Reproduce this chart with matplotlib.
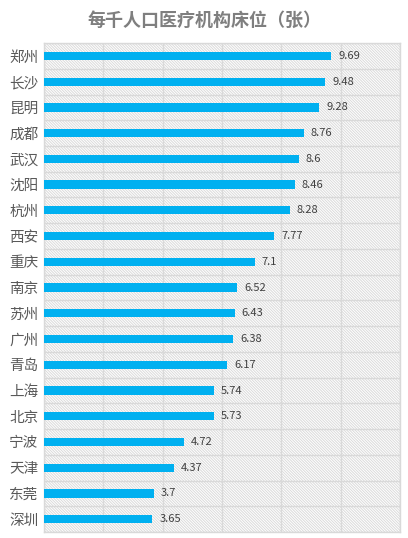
import matplotlib
matplotlib.use("Agg")
import matplotlib.pyplot as plt
from matplotlib.patches import Rectangle

plt.rcParams['font.family'] = ['Noto Sans CJK SC', 'DejaVu Sans']
plt.rcParams['hatch.linewidth'] = 0.7

cities = ["郑州", "长沙", "昆明", "成都", "武汉", "沈阳", "杭州", "西安", "重庆", "南京",
          "苏州", "广州", "青岛", "上海", "北京", "宁波", "天津", "东莞", "深圳"]
beds = [9.69, 9.48, 9.28, 8.76, 8.6, 8.46, 8.28, 7.77, 7.1, 6.52,
        6.43, 6.38, 6.17, 5.74, 5.73, 4.72, 4.37, 3.7, 3.65]
value_labels = ["9.69", "9.48", "9.28", "8.76", "8.6", "8.46", "8.28", "7.77", "7.1", "6.52",
                "6.43", "6.38", "6.17", "5.74", "5.73", "4.72", "4.37", "3.7", "3.65"]

fig = plt.figure(figsize=(4.08, 5.38), dpi=100)
ax = fig.add_axes([0.108, 0.011, 0.872, 0.909])

# hatched background
bg = Rectangle((0, 0), 1, 1, transform=ax.transAxes, facecolor='white',
               edgecolor='#dadada', hatch='\\' * 12, lw=0, zorder=0)
ax.add_patch(bg)

n = len(cities)
ypos = list(range(n))
ax.barh(ypos, beds, height=0.32, color='#00b0f0', zorder=3)

for y, v, lab in zip(ypos, beds, value_labels):
    ax.annotate(lab, (v, y), xytext=(5, 0), textcoords='offset points',
                va='center', ha='left', fontsize=8, color='#404040', zorder=4)

ax.set_xlim(0, 12)
ax.set_ylim(n - 0.5, -0.5)
ax.set_xticks(range(0, 13, 2))
ax.set_yticks([i + 0.5 for i in range(-1, n)], minor=True)
ax.set_yticks(ypos)
ax.set_yticklabels(cities, fontsize=10.5, color='#595959')
ax.tick_params(axis='y', which='both', length=0, pad=4)
ax.tick_params(axis='x', length=0, labelbottom=False)
ax.grid(axis='x', color='#d9d9d9', lw=1, zorder=1)
ax.grid(axis='y', which='minor', color='#d9d9d9', lw=1, zorder=1)
for s in ax.spines.values():
    s.set_color('#d9d9d9')
    s.set_linewidth(1)
ax.set_facecolor('none')

fig.text(0.5, 0.962, "每千人口医疗机构床位（张）", ha='center', va='center',
         fontsize=13, color='#7f7f7f', fontweight='bold')

fig.savefig("out.png", dpi=100)
